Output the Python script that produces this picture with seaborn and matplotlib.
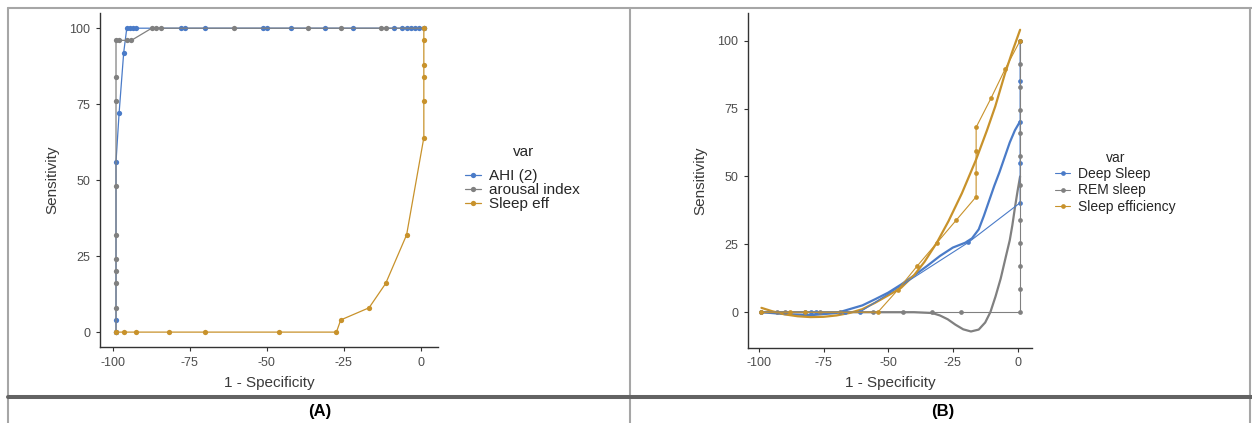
import numpy as np
import pandas as pd
import matplotlib
matplotlib.use('Agg')
import matplotlib.pyplot as plt
from matplotlib.lines import Line2D
import seaborn as sns

# ── data ────────────────────────────────────────────────────────────────────
# Panel A: raw ROC points
ahi_x = [-99, -99, -99, -98, -96.5, -95.5, -94.4, -93.5, -92.6, -78, -76.6, -70,
         -51.4, -50, -42, -31.2, -22, -8.7, -6.1, -4.6, -3.3, -1.9, -0.6, 1]
ahi_y = [0, 4, 56, 72, 92, 100, 100, 100, 100, 100, 100, 100,
         100, 100, 100, 100, 100, 100, 100, 100, 100, 100, 100, 100]

arousal_x = [-99, -99, -99, -99, -99, -99, -99, -99, -99, -99, -98, -95.3, -94,
             -87.4, -86, -84.5, -60.6, -36.6, -26, -12.8, -11.4, 1]
arousal_y = [0, 8, 16, 20, 24, 32, 48, 76, 84, 96, 96, 96, 96,
             100, 100, 100, 100, 100, 100, 100, 100, 100]

sleepeff_x = [-99, -96.5, -92.6, -81.8, -70, -46, -27.4, -26, -16.8, -11.4, -4.6,
              1, 1, 1, 1, 1, 1]
sleepeff_y = [0, 0, 0, 0, 0, 0, 0, 4, 8, 16, 32, 64, 76, 84, 88, 96, 100]

labels_a = ['AHI (2)', 'arousal index', 'Sleep eff']

# Panel B: raw ROC points
deep_x = [-99, -82, -80, -78, -66.7, -61, -19, 1, 1, 1, 1, 1]
deep_y = [0, 0, 0, 0, 0, 0, 25.7, 40.3, 55, 70, 85, 100]

rem_x = [-99, -93, -90, -76.3, -68.6, -55.7, -44.1, -33.1, -21.8,
         1, 1, 1, 1, 1, 1, 1, 1, 1, 1, 1, 1]
rem_y = [0, 0, 0, 0, 0, 0, 0, 0, 0,
         0, 8.5, 17, 25.5, 34, 46.8, 57.5, 66, 74.5, 83, 91.5, 100]

eff_x = [-99, -88, -82, -54, -46.3, -38.8, -31.2, -23.6, -16, -16, -16, -16,
         -10.3, -4.8, 1]
eff_y = [0, 0, 0, 0, 8.2, 17, 25.5, 34, 42.5, 51.1, 59.5, 68.1, 78.7, 89.5, 100]

# Panel B: smoothed curves
deep_fit_x = [-99, -90, -80, -70, -60, -55, -50, -45, -40, -35, -30, -25, -20.2,
              -17.6, -15, -13, -11, -9, -7, -5, -3, -1, 1]
deep_fit_y = [0, -0.7, -1.1, -0.3, 2.5, 4.8, 7.2, 10.2, 13.5, 17, 20.7, 23.8, 25.6,
              27.2, 30.5, 35.5, 41, 46.5, 51.5, 57, 62.5, 67, 70.3]

rem_fit_x = [-99, -80, -60, -40, -33, -30, -27, -24, -21, -18, -15, -12.5, -10.5,
             -8.5, -6.5, -4.5, -3, -2, -1, 0, 1]
rem_fit_y = [0, 0, 0, 0, -0.3, -1.2, -2.6, -4.6, -6.3, -7.1, -6.4, -3.8, 0,
             5.8, 12.4, 20.5, 26.5, 32, 38.5, 44.5, 50]

eff_fit_x = [-99, -95, -90, -85, -80, -75, -70, -65, -60, -55, -50, -45, -40, -36,
             -31.2, -26.7, -21.5, -16.1, -11.8, -8.6, -4.8, -2, 1]
eff_fit_y = [1.6, 0.4, -0.8, -1.5, -1.8, -1.7, -1.2, -0.3, 1.1, 3.5, 6.2, 9, 13.6, 18.5,
             25.6, 33.5, 43.8, 56, 67, 75.8, 88, 96, 104]

labels_b = ['Deep Sleep', 'REM sleep', 'Sleep efficiency']

ticks = [-100, -75, -50, -25, 0]
yticks = [0, 25, 50, 75, 100]

colors = ['#4a7bc8', '#808080', '#c8922b']

# ── long tables for seaborn ─────────────────────────────────────────────────
def long_df(xs, ys, names):
    parts = [pd.DataFrame({'x': x, 'y': y, 'var': n}) for x, y, n in zip(xs, ys, names)]
    return pd.concat(parts, ignore_index=True)

df_a = long_df([ahi_x, arousal_x, sleepeff_x], [ahi_y, arousal_y, sleepeff_y], labels_a)
df_b = long_df([deep_x, rem_x, eff_x], [deep_y, rem_y, eff_y], labels_b)
df_b_fit = long_df([deep_fit_x, rem_fit_x, eff_fit_x],
                   [deep_fit_y, rem_fit_y, eff_fit_y], labels_b)

# ── figure ──────────────────────────────────────────────────────────────────
sns.set_theme(style='ticks')
plt.rcParams['font.family'] = ['Liberation Sans', 'DejaVu Sans']
plt.rcParams['axes.unicode_minus'] = False

W, H = 1252, 423
fig = plt.figure(figsize=(W / 100, H / 100), dpi=100)
fig.patch.set_facecolor('white')

ax_a = fig.add_axes([100 / W, 1 - 347 / H, 338 / W, 334 / H])
ax_b = fig.add_axes([748 / W, 1 - 347.5 / H, 284 / W, 334 / H])

sns.lineplot(data=df_a, x='x', y='y', hue='var', hue_order=labels_a,
             palette=colors, sort=False, estimator=None, errorbar=None,
             marker='o', markersize=3.8, markeredgewidth=0, linewidth=0.9, ax=ax_a)

sns.lineplot(data=df_b_fit, x='x', y='y', hue='var', hue_order=labels_b,
             palette=colors, sort=False, estimator=None, errorbar=None,
             linewidth=1.6, legend=False, ax=ax_b)
sns.lineplot(data=df_b, x='x', y='y', hue='var', hue_order=labels_b,
             palette=colors, sort=False, estimator=None, errorbar=None,
             marker='o', markersize=3.4, markeredgewidth=0, linewidth=0.8, ax=ax_b)

for ax, ylim in [(ax_a, (-4.9, 105)), (ax_b, (-13, 110))]:
    ax.set_xlim(-104.2, 5.6)
    ax.set_ylim(*ylim)
    ax.set_xticks(ticks)
    ax.set_yticks(yticks)
    ax.set_xlabel('1 - Specificity', fontsize=11, color='#3a3a3a', labelpad=5)
    ax.set_ylabel('Sensitivity', fontsize=11, color='#3a3a3a', labelpad=7)
    ax.tick_params(labelsize=9, labelcolor='#4d4d4d', color='#333333',
                   length=3, width=0.8, pad=4)
    for side in ['left', 'bottom']:
        ax.spines[side].set_color('#333333')
        ax.spines[side].set_linewidth(1.0)
    sns.despine(ax=ax)

# legend A: title drawn separately, ggplot leaves a wider gap under it
sns.move_legend(ax_a, loc='upper left', bbox_to_anchor=(465 / W, 1 - 169 / H),
                bbox_transform=fig.transFigure, frameon=False, title=None,
                fontsize=11, borderpad=0, borderaxespad=0, handlelength=1.05,
                handletextpad=0.5, labelspacing=0.0)
fig.text(524 / W, 1 - 152 / H, 'var', ha='center', va='center',
         fontsize=11, color='#262626')

sns.move_legend(ax_b, loc='upper left', bbox_to_anchor=(1055 / W, 1 - 151 / H),
                bbox_transform=fig.transFigure, frameon=False, title='var',
                fontsize=10, title_fontsize=10, borderpad=0, borderaxespad=0,
                handlelength=1.1, handletextpad=0.55, labelspacing=0.16)

# ── surrounding table frame and panel captions ─────────────────────────────
def px_line(x0, y0, x1, y1, color, lw):
    fig.add_artist(Line2D([x0 / W, x1 / W], [1 - y0 / H, 1 - y1 / H],
                          transform=fig.transFigure, color=color, linewidth=lw))

px_line(8, 8, W, 8, '#a6a6a6', 1.5)
px_line(8, 8, 8, H, '#a6a6a6', 1.5)
px_line(630, 8, 630, H, '#a6a6a6', 1.5)
px_line(1250, 8, 1250, H, '#a6a6a6', 1.5)
px_line(8, 397, W, 397, '#636363', 2.9)

fig.text(320 / W, 1 - 411 / H, '(A)', ha='center', va='center',
         fontsize=12, fontweight='bold', color='black')
fig.text(943 / W, 1 - 411 / H, '(B)', ha='center', va='center',
         fontsize=12, fontweight='bold', color='black')

fig.savefig('out.png', dpi=100)
